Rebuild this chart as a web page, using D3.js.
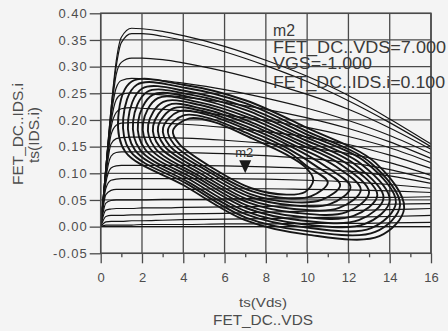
<!DOCTYPE html>
<html><head><meta charset="utf-8">
<script src="https://cdn.jsdelivr.net/npm/d3@7"></script>
<style>
html,body{margin:0;padding:0;background:#f4f4f4;}
svg{display:block;}
text{font-family:"Liberation Sans",Arial,Helvetica,sans-serif;}
</style></head><body>
<svg id="chart" width="448" height="331"></svg>
<script>
// ---- data ----
const xTicks = [0,2,4,6,8,10,12,14,16];
const xMinorTicks = [1,3,5,7,9,11,13,15];
const yTicks = [-0.05,0,0.05,0.10,0.15,0.20,0.25,0.30,0.35,0.40];
const yTickLabels = ["-0.05","0.00","0.05","0.10","0.15","0.20","0.25","0.30","0.35","0.40"];

// DC IV family: Vds grid and Ids per Vgs step
const vdsGrid = [0,0.25,0.5,0.75,1,1.5,2,3,4,6,8,10,12,14,16];
const ivCurves = [
  [0,.11,.22,.31,.355,.372,.371,.366,.358,.338,.312,.282,.246,.202,.155],
  [0,.11,.22,.30,.345,.362,.362,.357,.349,.328,.302,.272,.236,.195,.150],
  [0,.11,.21,.285,.308,.316,.316,.313,.307,.291,.271,.248,.220,.185,.145],
  [0,.11,.205,.26,.274,.278,.277,.274,.269,.257,.241,.222,.199,.171,.137],
  [0,.105,.195,.238,.248,.251,.250,.247,.243,.233,.220,.204,.184,.159,.128],
  [0,.10,.185,.214,.221,.223,.222,.220,.217,.209,.199,.186,.169,.148,.120],
  [0,.10,.172,.19,.194,.195,.195,.194,.192,.186,.178,.168,.154,.134,.109],
  [0,.095,.155,.165,.167,.168,.168,.167,.166,.162,.156,.148,.137,.120,.096],
  [0,.09,.132,.139,.140,.140,.140,.140,.139,.137,.133,.128,.120,.107,.088],
  [0,.082,.110,.114,.115,.115,.115,.115,.115,.114,.112,.109,.104,.095,.081],
  [0,.072,.087,.089,.090,.090,.090,.090,.090,.090,.089,.087,.084,.079,.072],
  [0,.060,.068,.070,.070,.070,.070,.070,.070,.071,.071,.070,.069,.067,.064],
  [0,.044,.049,.050,.050,.050,.050,.051,.051,.052,.053,.054,.055,.055,.056],
  [0,.031,.033,.034,.034,.034,.035,.035,.036,.037,.038,.040,.041,.042,.043],
  [0,.019,.021,.021,.021,.022,.022,.023,.024,.025,.027,.029,.030,.032,.034],
  [0,.009,.010,.010,.010,.011,.011,.012,.013,.014,.015,.017,.018,.019,.021],
  [0,.003,.003,.003,.003,.003,.004,.004,.004,.005,.005,.006,.006,.007,.008],
  [0,0,0,0,0,0,0,0,0,0,0,0,0,0,0]
];

// dynamic load-line loops (Vds, Ids), outer to inner
const loopVds = [
  [0.85,1.5,4,7,10,13.3,14.7,13.5,10,7,4,1.2],
  [1.09,1.75,4.14,7.03,9.91,13.1,14.5,13.3,9.91,7.03,4.14,1.44],
  [1.33,2.01,4.27,7.05,9.82,12.9,14.3,13.1,9.82,7.05,4.27,1.67],
  [1.57,2.26,4.41,7.08,9.73,12.6,14.0,12.8,9.73,7.08,4.41,1.91],
  [1.81,2.52,4.55,7.11,9.64,12.3,13.7,12.5,9.64,7.11,4.55,2.15],
  [2.05,2.77,4.68,7.14,9.55,12.0,13.4,12.25,9.55,7.14,4.68,2.38],
  [2.30,3.03,4.82,7.16,9.45,11.65,13.0,11.9,9.45,7.16,4.82,2.62],
  [2.54,3.28,4.95,7.19,9.36,11.3,12.6,11.55,9.36,7.19,4.95,2.85],
  [2.78,3.54,5.09,7.22,9.27,10.85,12.1,11.1,9.27,7.22,5.09,3.09],
  [3.02,3.79,5.23,7.25,9.18,10.45,11.6,10.7,9.18,7.25,5.23,3.33],
  [3.26,4.05,5.36,7.27,9.09,10.0,11.0,10.2,9.09,7.27,5.36,3.56],
  [3.5,4.3,5.5,7.3,9,9.9,10.3,9.9,9,7.3,5.5,3.8]
];
const loopIds = [
  [.205,.272,.266,.237,.185,.120,.035,-.018,-.015,.012,.078,.140],
  [.203,.266,.260,.231,.180,.119,.040,-.010,-.008,.017,.081,.141],
  [.200,.259,.253,.224,.176,.119,.045,-.003,-.001,.023,.083,.143],
  [.198,.253,.247,.218,.171,.118,.049,.005,.005,.028,.086,.144],
  [.196,.247,.241,.211,.167,.117,.054,.012,.012,.034,.089,.145],
  [.194,.241,.234,.205,.162,.116,.059,.020,.019,.039,.092,.147],
  [.191,.234,.228,.198,.158,.116,.064,.027,.026,.045,.094,.148],
  [.189,.228,.221,.192,.153,.115,.069,.035,.033,.050,.097,.150],
  [.187,.222,.215,.185,.149,.114,.074,.042,.040,.056,.100,.151],
  [.185,.216,.209,.179,.144,.113,.078,.050,.046,.061,.103,.152],
  [.182,.209,.202,.172,.140,.113,.083,.057,.053,.067,.105,.154],
  [.180,.203,.196,.166,.135,.112,.088,.065,.060,.072,.108,.155]
];

const markerName = "m2";
const markerVds = 7.0;
const markerIds = 0.100;
const markerLines = ["m2","FET_DC..VDS=7.000","VGS=-1.000","FET_DC..IDS.i=0.100"];
const xTitleLines = ["ts(Vds)","FET_DC..VDS"];
const yTitleLines = ["FET_DC..IDS.i","ts(IDS.i)"];

// ---- drawing ----
const svg = d3.select("#chart");
const L = 100.7, R = 431, T = 13.3, B = 253.3;
const x = d3.scaleLinear().domain([0,16]).range([L,R]);
const y = d3.scaleLinear().domain([-0.05,0.40]).range([B,T]);

const gridColor = "#4a4a4a";
const lineColor = "#161616";
const textColor = "#4d4d4d";

svg.append("rect").attr("width",448).attr("height",331).attr("fill","#f4f4f4");

// grid
const grid = svg.append("g");
grid.selectAll("line.v").data(xTicks).join("line")
  .attr("x1",d=>x(d)).attr("x2",d=>x(d)).attr("y1",T).attr("y2",B)
  .attr("stroke",gridColor).attr("stroke-width",1.3);
grid.selectAll("line.h").data(yTicks).join("line")
  .attr("x1",L).attr("x2",R).attr("y1",d=>y(d)).attr("y2",d=>y(d))
  .attr("stroke",gridColor).attr("stroke-width",1.3);

// clip
svg.append("clipPath").attr("id","clip").append("rect")
  .attr("x",L).attr("y",T).attr("width",R-L).attr("height",B-T);
const plot = svg.append("g").attr("clip-path","url(#clip)");

// IV curves
const ivLine = d3.line().x((d,i)=>x(vdsGrid[i])).y(d=>y(d)).curve(d3.curveMonotoneX);
plot.selectAll("path.iv").data(ivCurves).join("path")
  .attr("class","iv").attr("d",ivLine)
  .attr("fill","none").attr("stroke",lineColor).attr("stroke-width",1.2);

// loops
const loopLine = d3.line().x(d=>x(d[0])).y(d=>y(d[1])).curve(d3.curveCatmullRomClosed.alpha(0.5));
const loops = loopVds.map((vs,k)=>vs.map((v,i)=>[v,loopIds[k][i]]));
plot.selectAll("path.loop").data(loops).join("path")
  .attr("class","loop").attr("d",loopLine)
  .attr("fill","none").attr("stroke",lineColor).attr("stroke-width",1.9);

// axes
const yAxis = d3.axisLeft(y).tickValues(yTicks).tickSize(11).tickPadding(2)
  .tickFormat((d,i)=>yTickLabels[i]);
const gy = svg.append("g").attr("transform",`translate(${L},0)`).call(yAxis);
gy.select(".domain").remove();
gy.selectAll("line").attr("stroke",gridColor).attr("stroke-width",1.3);
gy.selectAll("text").attr("fill",textColor).attr("font-size",13).attr("letter-spacing","1px")
  .attr("font-family","'Liberation Sans',Arial,sans-serif");

const xAxis = d3.axisBottom(x).tickValues(xTicks).tickSize(10).tickPadding(9)
  .tickFormat(d=>String(d));
const gx = svg.append("g").attr("transform",`translate(0,${B})`).call(xAxis);
gx.select(".domain").remove();
gx.selectAll("line").attr("stroke",gridColor).attr("stroke-width",1.3);
gx.selectAll("text").attr("fill",textColor).attr("font-size",13)
  .attr("font-family","'Liberation Sans',Arial,sans-serif");

const xMinor = d3.axisBottom(x).tickValues(xMinorTicks).tickSize(4).tickFormat("");
const gxm = svg.append("g").attr("transform",`translate(0,${B})`).call(xMinor);
gxm.select(".domain").remove();
gxm.selectAll("line").attr("stroke",gridColor).attr("stroke-width",1.3);

// frame
svg.append("rect").attr("x",L).attr("y",T).attr("width",R-L).attr("height",B-T)
  .attr("fill","none").attr("stroke",gridColor).attr("stroke-width",1.5);

// axis titles
svg.append("text").attr("x",263).attr("y",307).attr("text-anchor","middle")
  .attr("font-size",13).attr("fill",textColor)
  .attr("textLength",48).attr("lengthAdjust","spacingAndGlyphs").text(xTitleLines[0]);
svg.append("text").attr("x",263).attr("y",325).attr("text-anchor","middle")
  .attr("font-size",15).attr("fill",textColor)
  .attr("textLength",100).attr("lengthAdjust","spacingAndGlyphs").text(xTitleLines[1]);
svg.append("text").attr("transform","translate(23,134) rotate(-90)").attr("text-anchor","middle")
  .attr("font-size",15).attr("fill",textColor)
  .attr("textLength",102).attr("lengthAdjust","spacingAndGlyphs").text(yTitleLines[0]);
svg.append("text").attr("transform","translate(39,135) rotate(-90)").attr("text-anchor","middle")
  .attr("font-size",14).attr("fill",textColor)
  .attr("textLength",56).attr("lengthAdjust","spacingAndGlyphs").text(yTitleLines[1]);

// marker
const mx = x(markerVds), my = y(markerIds);
svg.append("path").attr("d",`M${mx-6},${my-13}L${mx+6},${my-13}L${mx},${my}Z`)
  .attr("fill","#1a1a1a");
svg.append("text").attr("x",mx-1).attr("y",my-16).attr("text-anchor","middle")
  .attr("font-size",13).attr("fill","#333").text(markerName);

// marker readout
const mWidths = [22,173,99,172];
const mBase = [36,53,69,88];
markerLines.forEach((t,i)=>{
  svg.append("text").attr("x",273).attr("y",mBase[i]).attr("font-size",16)
    .attr("fill","#3a3a3a").attr("textLength",mWidths[i]).attr("lengthAdjust","spacingAndGlyphs")
    .text(t);
});
</script>
</body></html>
